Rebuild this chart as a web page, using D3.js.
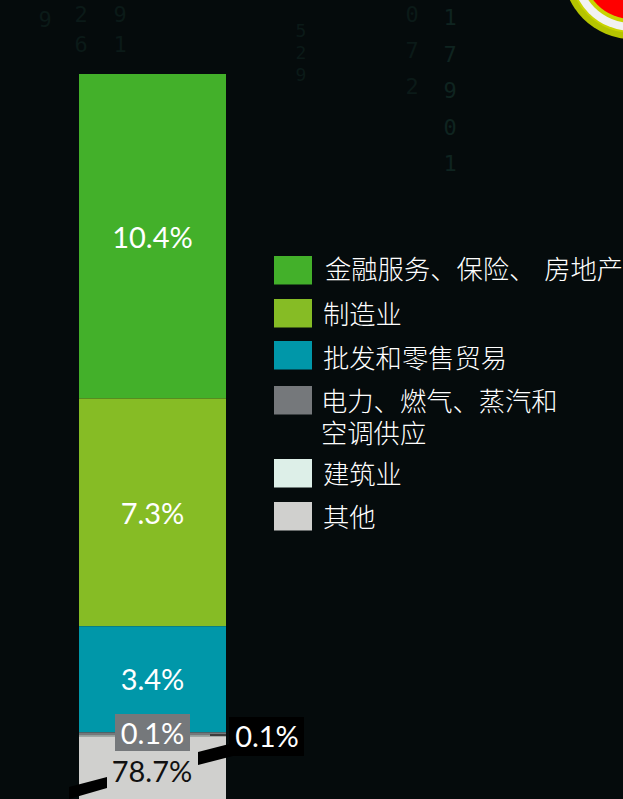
<!DOCTYPE html>
<html>
<head>
<meta charset="utf-8">
<script src="https://cdn.jsdelivr.net/npm/d3@7"></script>
<style>
  html, body { margin: 0; padding: 0; background: #050b0c; overflow: hidden; }
  text { font-family: Lato, "Noto Sans CJK SC", sans-serif; }
  .legend-label { font-family: "Noto Sans CJK SC", sans-serif; font-weight: 300; }
  .bg-digit { font-family: "DejaVu Sans Mono", monospace; }
</style>
</head>
<body>
<script>
const categories = ["金融服务、保险、 房地产", "制造业", "批发和零售贸易", "电力、燃气、蒸汽和|空调供应", "建筑业", "其他"];
const shares     = [10.4, 7.3, 3.4, 0.1, 0.03, 78.7];
const shareLabels = ["10.4%", "7.3%", "3.4%", "0.1%", "0.1%", "78.7%"];
const colors     = ["#43b02a", "#86bc25", "#0097a9", "#75787b", "#ddefe8", "#d0d0ce"];

// faint digit columns in the background picture
const bgDigits = ["9", "26", "91", "529", "072", "17901"];

const width = 623;
const height = 799;

const svg = d3.select("body")
  .append("svg")
  .attr("width", width)
  .attr("height", height)
  .style("display", "block");

// background digits
const bgLayout = [
  { x: 45,  start: 27, step: 36,   size: 22 },
  { x: 81,  start: 22, step: 30,   size: 22 },
  { x: 120, start: 22, step: 30,   size: 22 },
  { x: 301, start: 37, step: 22,   size: 18 },
  { x: 412, start: 22, step: 36,   size: 22 },
  { x: 450, start: 25, step: 36.5, size: 22 }
];
bgDigits.forEach((digits, c) => {
  svg.selectAll(null)
    .data(digits.split(""))
    .enter()
    .append("text")
    .attr("class", "bg-digit")
    .attr("x", bgLayout[c].x)
    .attr("y", (d, i) => bgLayout[c].start + i * bgLayout[c].step)
    .attr("text-anchor", "middle")
    .attr("font-size", bgLayout[c].size)
    .attr("fill", c === 5 ? "#0f2420" : "#0b1a18")
    .text(d => d);
});

// badge in the top right corner
const badge = [
  { r: 69, fill: "#b5c400" },
  { r: 63, fill: "#c9d400" },
  { r: 61, fill: "#f2f2f2" },
  { r: 53, fill: "#c9d400" },
  { r: 49, fill: "#ff0000" }
];
svg.selectAll("circle.badge")
  .data(badge)
  .enter()
  .append("circle")
  .attr("class", "badge")
  .attr("cx", 632)
  .attr("cy", -30)
  .attr("r", d => d.r)
  .attr("fill", d => d.fill);

// stacked bar, 1% is about 31.2px so the bottom runs off the page
const y = d3.scaleLinear().domain([0, 100]).range([74, 3194]);
const x = d3.scaleBand().domain(["bar"]).range([79, 226]);

let acc = 0;
const stack = shares.map((v, i) => {
  const row = { i, y0: acc, y1: acc + v };
  acc += v;
  return row;
});

svg.selectAll("rect.seg")
  .data(stack)
  .enter()
  .append("rect")
  .attr("class", "seg")
  .attr("x", x("bar"))
  .attr("width", x.bandwidth())
  .attr("y", d => y(d.y0))
  .attr("height", d => y(d.y1) - y(d.y0))
  .attr("fill", d => colors[d.i]);

// leader lines for the small segments
const leader = d3.line();
svg.append("path")
  .attr("d", leader([[69, 787], [107, 777], [107, 788], [69, 799]]) + "Z")
  .attr("fill", "#000");
svg.append("path")
  .attr("d", leader([[198, 752], [233, 743], [233, 756], [198, 765]]) + "Z")
  .attr("fill", "#000");
svg.append("line")
  .attr("x1", 210).attr("y1", 735).attr("x2", 226).attr("y2", 735)
  .attr("stroke", "#3c3c3c").attr("stroke-width", 2);

// label boxes
svg.append("rect").attr("x", 115).attr("y", 714).attr("width", 75).attr("height", 37).attr("fill", colors[3]);
svg.append("rect").attr("x", 229).attr("y", 717).attr("width", 75).attr("height", 39).attr("fill", "#000");

const labelPos = [
  { x: 152.5, y: 238 },
  { x: 152.5, y: 514 },
  { x: 152.5, y: 680 },
  { x: 152.5, y: 734 },
  { x: 267,   y: 737 },
  { x: 152,   y: 772 }
];
svg.selectAll("text.val")
  .data(shareLabels)
  .enter()
  .append("text")
  .attr("class", "val")
  .attr("x", (d, i) => labelPos[i].x)
  .attr("y", (d, i) => labelPos[i].y)
  .attr("dy", "0.35em")
  .attr("text-anchor", "middle")
  .attr("font-size", 29)
  .attr("fill", (d, i) => i === 5 ? "#111" : "#fff")
  .text(d => d);

// legend
const legendY = [256, 299, 341, 386, 459, 502];
const legendTextY = [23, 25, 27, 25, 25, 25];
const legend = svg.selectAll("g.legend")
  .data(categories)
  .enter()
  .append("g")
  .attr("class", "legend")
  .attr("transform", (d, i) => `translate(274,${legendY[i]})`);

legend.append("rect")
  .attr("width", 38)
  .attr("height", 28.5)
  .attr("fill", (d, i) => colors[i]);

legend.append("text")
  .attr("class", "legend-label")
  .attr("x", (d, i) => i === 0 ? 51 : i === 3 ? 47 : 49)
  .attr("font-size", 26.3)
  .attr("word-spacing", 3)
  .attr("fill", "#fff")
  .each(function(d, i) {
    const t = d3.select(this);
    d.split("|").forEach((line, j) => {
      t.append("tspan")
        .attr("x", t.attr("x"))
        .attr("y", legendTextY[i] + j * 32)
        .text(line);
    });
  });
</script>
</body>
</html>
